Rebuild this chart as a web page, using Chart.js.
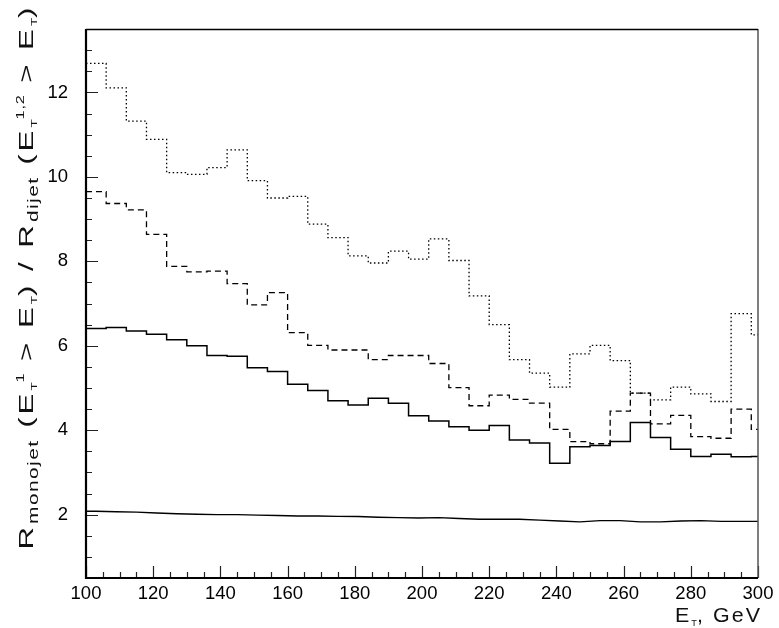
<!DOCTYPE html>
<html>
<head>
<meta charset="utf-8">
<script src="https://cdn.jsdelivr.net/npm/chart.js@4.4.1/dist/chart.umd.min.js"></script>
<style>
  html, body { margin: 0; padding: 0; background: #fff; }
  #chart { display: block; }
</style>
</head>
<body>
<canvas id="chart" width="779" height="628"></canvas>
<script>
// bin edges (GeV), 6 GeV bins, last one cut at 300
const binEdges = [100, 106, 112, 118, 124, 130, 136, 142, 148, 154, 160, 166, 172, 178, 184, 190, 196,
    202, 208, 214, 220, 226, 232, 238, 244, 250, 256, 262, 268, 274, 280, 286, 292, 298, 300];

// dotted histogram (top)
const dottedVals = [12.69, 12.11, 11.32, 10.89, 10.10, 10.06, 10.22, 10.64, 9.91, 9.50, 9.54, 8.88,
    8.56, 8.13, 7.96, 8.24, 8.05, 8.53, 8.02, 7.18, 6.50, 5.67, 5.35, 5.02, 5.81, 6.01, 5.65,
    4.88, 4.72, 5.02, 4.86, 4.68, 6.76, 6.26];

// dashed histogram
const dashedVals = [9.65, 9.37, 9.22, 8.64, 7.88, 7.75, 7.77, 7.47, 6.97, 7.26, 6.31, 6.01,
    5.90, 5.90, 5.67, 5.77, 5.77, 5.58, 5.01, 4.58, 4.83, 4.73, 4.64, 4.02, 3.73, 3.68, 4.45,
    4.88, 4.15, 4.35, 3.85, 3.81, 4.50, 4.02];

// solid histogram
const solidVals = [6.41, 6.43, 6.35, 6.27, 6.14, 6.00, 5.77, 5.75, 5.48, 5.39, 5.09, 4.94,
    4.70, 4.60, 4.76, 4.64, 4.34, 4.22, 4.08, 4.00, 4.11, 3.77, 3.70, 3.22, 3.61, 3.64, 3.73,
    4.18, 3.83, 3.55, 3.38, 3.43, 3.37, 3.38];

// smooth curve near 2
const curveX = [100, 103, 109, 115, 121, 127, 133, 139, 145, 151, 157, 163, 169, 175, 181, 187, 193,
    199, 205, 211, 217, 223, 229, 235, 241, 247, 253, 259, 265, 271, 277, 283, 289, 295, 300];
const curveY = [2.08, 2.08, 2.07, 2.06, 2.04, 2.02, 2.01, 2.00, 2.00, 1.99, 1.98, 1.97, 1.97, 1.96,
    1.955, 1.94, 1.93, 1.92, 1.93, 1.91, 1.89, 1.89, 1.89, 1.87, 1.85, 1.83, 1.86, 1.86, 1.83,
    1.83, 1.85, 1.86, 1.84, 1.84, 1.84];

const xTicks = [100, 120, 140, 160, 180, 200, 220, 240, 260, 280, 300];
const yTicks = [2, 4, 6, 8, 10, 12];

const FONT = "'Liberation Sans', Arial, sans-serif";

function histPoints(vals) {
    return binEdges.map((x, i) => ({ x: x, y: vals[Math.min(i, vals.length - 1)] }));
}

// draw text made of pieces with sub/superscripts, fitted to a given length
function drawRich(ctx, parts, x, y, rotate, length, align) {
    const styles = {
        main: { size: 21, dy: 0, sp: 2 },
        sub: { size: 14, dy: 5, sp: 1 },
        subT: { size: 9, dy: 4, sp: 0 },
        sup: { size: 11, dy: -9, sp: 0.5 }
    };
    let total = 0;
    ctx.letterSpacing = '0px';
    parts.forEach(p => {
        const st = styles[p[1]];
        ctx.font = st.size + 'px ' + FONT;
        p.w = ctx.measureText(p[0]).width + st.sp * p[0].length;
        total += p.w;
    });
    const sx = length / total;
    ctx.save();
    ctx.translate(x, y);
    if (rotate) ctx.rotate(-Math.PI / 2);
    ctx.scale(sx, 1);
    ctx.fillStyle = '#111';
    ctx.textBaseline = 'alphabetic';
    ctx.textAlign = 'left';
    let cx = align === 'right' ? -total : -total / 2;
    parts.forEach(p => {
        const st = styles[p[1]];
        ctx.font = st.size + 'px ' + FONT;
        ctx.letterSpacing = st.sp + 'px';
        ctx.fillText(p[0], cx, st.dy);
        cx += p.w;
    });
    ctx.restore();
    ctx.letterSpacing = '0px';
}

const yTitle = [['R', 'main'], ['monojet', 'sub'], [' (E', 'main'], ['T', 'subT'], ['1', 'sup'],
    [' > E', 'main'], ['T', 'subT'], [') / R', 'main'], ['dijet', 'sub'], [' (E', 'main'],
    ['T', 'subT'], ['1,2', 'sup'], [' > E', 'main'], ['T', 'subT'], [')', 'main']];
const xTitle = [['E', 'main'], ['T', 'subT'], [', GeV', 'main']];

const framePlugin = {
    id: 'frame',
    afterDraw(chart) {
        const ctx = chart.ctx;
        const a = chart.chartArea;
        const xs = chart.scales.x, ys = chart.scales.y;
        ctx.save();
        // ticks pointing inwards
        ctx.strokeStyle = '#222';
        ctx.lineWidth = 1.2;
        ctx.beginPath();
        for (let v = 100; v <= 300; v += 5) {
            const px = Math.round(xs.getPixelForValue(v)) + 0.5;
            const len = xTicks.includes(v) ? 12 : 6;
            ctx.moveTo(px, a.bottom);
            ctx.lineTo(px, a.bottom - len);
        }
        for (let v = 1; v <= 13.5; v += 0.5) {
            const py = Math.round(ys.getPixelForValue(v)) + 0.5;
            const len = yTicks.includes(v) ? 12 : 6;
            ctx.moveTo(a.left, py);
            ctx.lineTo(a.left + len, py);
        }
        ctx.stroke();
        // box
        ctx.strokeStyle = '#555';
        ctx.lineWidth = 1.5;
        ctx.beginPath();
        ctx.moveTo(a.right, a.top);
        ctx.lineTo(a.right, a.bottom);
        ctx.stroke();
        ctx.strokeStyle = '#000';
        ctx.lineWidth = 1.5;
        ctx.beginPath();
        ctx.moveTo(a.left, a.top + 0.5);
        ctx.lineTo(a.right, a.top + 0.5);
        ctx.stroke();
        ctx.lineWidth = 2.2;
        ctx.beginPath();
        ctx.moveTo(a.left, a.top);
        ctx.lineTo(a.left, a.bottom);
        ctx.lineTo(a.right, a.bottom);
        ctx.stroke();
        ctx.restore();

        // axis titles
        drawRich(ctx, yTitle, 33, 277, true, 545, 'center');
        drawRich(ctx, xTitle, 762, 622, false, 87, 'right');
    }
};

new Chart(document.getElementById('chart'), {
    type: 'line',
    data: {
        datasets: [
            {
                label: 'dotted',
                data: histPoints(dottedVals),
                stepped: true,
                borderColor: '#000',
                borderWidth: 1.3,
                borderDash: [1.5, 2.5],
                pointRadius: 0
            },
            {
                label: 'dashed',
                data: histPoints(dashedVals),
                stepped: true,
                borderColor: '#000',
                borderWidth: 1.3,
                borderDash: [6, 4],
                pointRadius: 0
            },
            {
                label: 'solid',
                data: histPoints(solidVals),
                stepped: true,
                borderColor: '#000',
                borderWidth: 1.5,
                pointRadius: 0
            },
            {
                label: 'curve',
                data: curveX.map((x, i) => ({ x: x, y: curveY[i] })),
                borderColor: '#000',
                borderWidth: 1.4,
                pointRadius: 0,
                tension: 0
            }
        ]
    },
    options: {
        responsive: false,
        animation: false,
        devicePixelRatio: 1,
        layout: { padding: { top: 2, right: 21, left: 0, bottom: 0 } },
        plugins: {
            legend: { display: false },
            tooltip: { enabled: false }
        },
        scales: {
            x: {
                type: 'linear',
                min: 100,
                max: 300,
                afterBuildTicks: scale => { scale.ticks = xTicks.map(v => ({ value: v })); },
                afterFit: scale => { scale.height = 50; },
                grid: { display: false, drawTicks: false },
                border: { display: false },
                ticks: {
                    padding: 5,
                    color: '#000',
                    maxRotation: 0,
                    font: { family: FONT, size: 18.5 }
                }
            },
            y: {
                type: 'linear',
                min: 0.5,
                max: 13.5,
                afterBuildTicks: scale => { scale.ticks = yTicks.map(v => ({ value: v })); },
                afterFit: scale => { scale.width = 86; },
                grid: { display: false, drawTicks: false },
                border: { display: false },
                ticks: {
                    padding: 18,
                    color: '#000',
                    font: { family: FONT, size: 18.5 }
                }
            }
        }
    },
    plugins: [framePlugin]
});
</script>
</body>
</html>
